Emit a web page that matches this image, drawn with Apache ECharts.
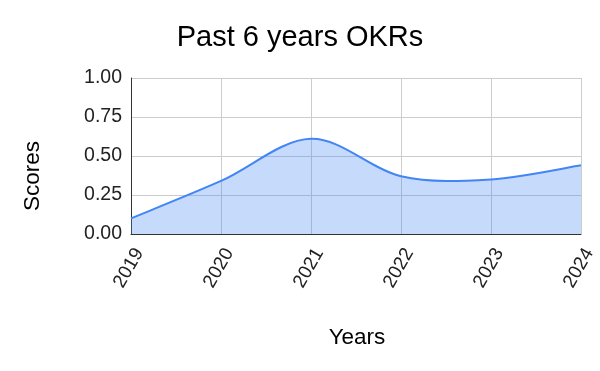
<!DOCTYPE html>
<html>
<head>
<meta charset="utf-8">
<script src="https://cdn.jsdelivr.net/npm/echarts@6/dist/echarts.min.js"></script>
<style>html,body{margin:0;padding:0;background:#fff;}#c{width:600px;height:371px;}</style>
</head>
<body>
<div id="c"></div>
<script>
const titleText = "Past 6 years OKRs";
const xAxisTitle = "Years";
const yAxisTitle = "Scores";
const years = ["2019", "2020", "2021", "2022", "2023", "2024"];
const scores = [0.10, 0.34, 0.61, 0.37, 0.35, 0.44];
const yTicks = [0, 0.25, 0.5, 0.75, 1.0];

const FONT = "Liberation Sans, Arial, sans-serif";

// Catmull-Rom smoothed curve through the data, positioned by the chart's own axes (api.coord)
function renderCurve(params, api) {
  if (params.dataIndex !== 0) return null;
  const pts = scores.map((v, i) => api.coord([i, v]));
  const base = api.coord([0, yTicks[0]])[1];
  let d = 'M' + pts[0][0] + ' ' + pts[0][1];
  for (let i = 0; i < pts.length - 1; i++) {
    const p0 = pts[Math.max(i - 1, 0)], p1 = pts[i], p2 = pts[i + 1], p3 = pts[Math.min(i + 2, pts.length - 1)];
    const c1x = p1[0] + (p2[0] - p0[0]) / 6, c1y = p1[1] + (p2[1] - p0[1]) / 6;
    const c2x = p2[0] - (p3[0] - p1[0]) / 6, c2y = p2[1] - (p3[1] - p1[1]) / 6;
    d += ' C' + c1x + ' ' + c1y + ' ' + c2x + ' ' + c2y + ' ' + p2[0] + ' ' + p2[1];
  }
  const last = pts[pts.length - 1];
  const area = d + ' L' + last[0] + ' ' + base + ' L' + pts[0][0] + ' ' + base + ' Z';
  return {
    type: 'group',
    children: [
      {type: 'path', shape: {pathData: area}, style: {fill: 'rgba(66,133,244,0.3)', stroke: null}},
      {type: 'path', shape: {pathData: d}, style: {fill: null, stroke: '#4285F4', lineWidth: 2}}
    ]
  };
}

const chart = echarts.init(document.getElementById('c'), null, {renderer: 'canvas'});
chart.setOption({
  animation: false,
  backgroundColor: '#ffffff',
  title: {
    text: titleText,
    left: 'center',
    top: 18,
    textStyle: {fontFamily: FONT, fontSize: 29, fontWeight: 'normal', color: '#000'}
  },
  grid: {left: 131, right: 19, top: 78, bottom: 137, containLabel: false},
  xAxis: {
    type: 'category',
    data: years,
    boundaryGap: false,
    axisLine: {show: true, lineStyle: {color: '#333', width: 1}},
    axisTick: {show: false},
    axisLabel: {rotate: 60, margin: 11, verticalAlign: 'top', fontFamily: FONT, fontSize: 19, color: '#222'},
    splitLine: {show: true, lineStyle: {color: '#cccccc', width: 1}}
  },
  yAxis: {
    type: 'value',
    min: yTicks[0],
    max: yTicks[yTicks.length - 1],
    interval: yTicks[1] - yTicks[0],
    axisLine: {show: true, lineStyle: {color: '#333', width: 1}},
    axisTick: {show: false},
    axisLabel: {margin: 9, fontFamily: FONT, fontSize: 19.5, color: '#222',
      formatter: v => v.toFixed(2)},
    splitLine: {show: true, lineStyle: {color: '#cccccc', width: 1}}
  },
  graphic: [
    {type: 'text', x: 357, y: 338,
      style: {text: xAxisTitle, font: '22.5px ' + FONT, fill: '#000', textAlign: 'center', textVerticalAlign: 'middle'}},
    {type: 'text', x: 33, y: 176, rotation: Math.PI / 2,
      style: {text: yAxisTitle, font: '22.5px ' + FONT, fill: '#000', textAlign: 'center', textVerticalAlign: 'middle'}}
  ],
  series: [{
    type: 'custom',
    data: scores.map((v, i) => [i, v]),
    encode: {x: 0, y: 1},
    renderItem: renderCurve,
    clip: false
  }]
});
</script>
</body>
</html>
